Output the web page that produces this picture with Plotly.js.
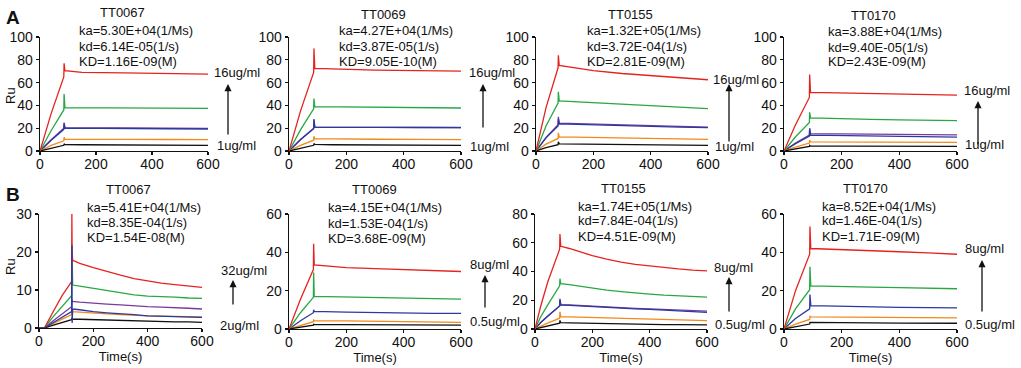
<!DOCTYPE html>
<html><head><meta charset="utf-8">
<script src="https://cdn.plot.ly/plotly-3.0.1.min.js"></script>
<style>html,body{margin:0;padding:0;background:#fff}#chart{width:1021px;height:368px}</style>
</head><body><div id="chart"></div>
<script>
// ---------- DATA ----------
const xTicks = [0, 200, 400, 600];

// Panel A: TT0067
const A1_t      = [0, 40, 85, 86, 89, 150, 300, 450, 600];
const A1_red    = [0, 33, 65, 77, 70.5, 69, 68.5, 68, 67.5];
const A1_green  = [0, 18, 36, 50, 38, 38, 37.8, 37.6, 37.4];
const A1_purple = [0, 10, 20, 25, 20.5, 20.5, 20.3, 20, 19.8];
const A1_blue   = [0, 9.5, 19, 24, 20, 20, 19.8, 19.5, 19.3];
const A1_orange = [0, 5, 9, 12, 10.5, 10.3, 10.2, 10.1, 10];
const A1_black  = [0, 2.5, 5, 6.3, 5.6, 5.5, 5.3, 5.1, 4.9];

// Panel A: TT0069
const A2_t      = [0, 40, 86, 87, 90, 150, 300, 450, 600];
const A2_red    = [0, 35, 69, 90, 72.5, 72, 71, 70.5, 70];
const A2_green  = [0, 18.5, 37, 46, 39, 38.8, 38.5, 38, 37.7];
const A2_purple = [0, 10, 20, 27, 21, 21, 21, 20.8, 20.6];
const A2_blue   = [0, 9.8, 19.5, 28, 21, 20.8, 20.8, 20.6, 20.5];
const A2_orange = [0, 5, 9.5, 13, 10.8, 10.5, 10.3, 10.2, 10];
const A2_black  = [0, 2.5, 5, 6.5, 5.8, 5.5, 5.3, 5.2, 5];

// Panel A: TT0155
const A3_t      = [0, 35, 77, 78, 81, 120, 200, 300, 400, 500, 600];
const A3_red    = [0, 38, 73, 84, 75, 73.5, 70.5, 68, 66, 64, 62.5];
const A3_green  = [0, 22, 42, 52, 44, 43.5, 42.5, 41, 39.8, 38.5, 37.2];
const A3_purple = [0, 12, 23, 30, 24.5, 24.2, 23.5, 23, 22.3, 21.5, 21];
const A3_blue   = [0, 11.5, 22, 28, 23.8, 23.5, 23, 22.4, 21.8, 21, 20.5];
const A3_orange = [0, 6, 11, 16, 12.4, 12.2, 12, 11.5, 11, 10.5, 10.2];
const A3_black  = [0, 3, 5.5, 8, 6.3, 6.2, 6, 5.8, 5.5, 5.2, 5];

// Panel A: TT0170
const A4_t      = [0, 40, 88, 89, 92, 200, 300, 400, 500, 600];
const A4_red    = [0, 23, 47, 67, 51.5, 51, 50.5, 50, 49.5, 49];
const A4_green  = [0, 12.5, 25, 34, 29, 28, 27.7, 27.3, 27, 26.7];
const A4_purple = [0, 7, 14, 19, 15.2, 15, 14.8, 14.6, 14.3, 14.2];
const A4_blue   = [0, 6.5, 13, 20, 14, 13.5, 13.2, 12.8, 12.5, 12.2];
const A4_orange = [0, 3.5, 7, 9.5, 8, 7.8, 7.7, 7.6, 7.6, 7.6];
const A4_black  = [0, 2, 4, 5, 4.4, 4.3, 4.2, 4.1, 4, 4];

// Panel B: TT0067
const B1_t      = [0, 20, 50, 85, 120, 121, 122, 124, 150, 200, 250, 300, 350, 400, 450, 500, 550, 600];
const B1_red    = [0, 0, 4, 8.5, 12.2, 30, 20, 17.8, 17, 15.9, 14.8, 13.9, 13, 12.3, 11.8, 11.4, 11, 10.7];
const B1_green  = [0, 0, 2.8, 5.8, 8.5, 22, 14, 11.3, 11, 10.4, 9.7, 9.1, 8.7, 8.4, 8.3, 8.1, 7.9, 7.8];
const B1_purple = [0, 0, 1.8, 3.8, 5.6, 7.5, 7.2, 7, 6.8, 6.5, 6.3, 6.1, 5.8, 5.6, 5.5, 5.4, 5.2, 5];
const B1_blue   = [0, 0, 1.3, 2.8, 4.3, 21.7, 1.3, 5, 4.8, 4.3, 4, 3.8, 3.5, 3.2, 3.1, 3, 2.9, 2.8];
const B1_orange = [0, 0, 1.1, 2.4, 3.5, 4.5, 4.3, 4.3, 4.2, 3.9, 3.7, 3.5, 3.3, 3.2, 3.1, 3, 2.9, 2.9];
const B1_black  = [0, 0, 0.7, 1.5, 2.2, 2.5, 2.4, 2.3, 2.3, 2.2, 2.1, 2, 1.8, 1.7, 1.7, 1.6, 1.6, 1.5];

// Panel B: TT0069
const B2_t      = [0, 40, 85, 86, 88, 200, 300, 400, 500, 600];
const B2_red    = [0, 15.5, 31, 44.5, 33.5, 32, 31.5, 31, 30.5, 30];
const B2_green  = [0, 8.5, 16.5, 29.5, 17, 16.7, 16.3, 16, 15.8, 15.6];
const B2_blue   = [0, 4.3, 8.5, 10, 9.2, 8.8, 8.5, 8.3, 8.2, 8.2];
const B2_orange = [0, 1.9, 3.8, 5, 4.3, 4.2, 4, 3.8, 3.6, 3.5];
const B2_black  = [0, 1, 2, 2.6, 2.3, 2.3, 2.2, 2.1, 2, 2];

// Panel B: TT0155
const B3_t      = [0, 20, 45, 70, 86, 87, 90, 120, 160, 200, 250, 300, 350, 400, 450, 500, 550, 600];
const B3_red    = [0, 16, 33, 47, 55.5, 66, 57.5, 56, 53.5, 51, 48.6, 46.5, 45, 43.8, 42.7, 41.8, 41, 40.5];
const B3_green  = [0, 8.5, 17, 25, 30, 35, 31.5, 30.8, 29.5, 28.3, 27, 26, 25, 24.3, 23.6, 23, 22.5, 22.2];
const B3_purple = [0, 4.5, 9, 13, 16, 20, 17, 16.8, 16.3, 15.8, 15.2, 14.8, 14.4, 14, 13.6, 13.2, 12.8, 12.5];
const B3_blue   = [0, 4.5, 9, 13, 16, 21, 16.8, 16.5, 16, 15.5, 15, 14.5, 14, 13.6, 13, 12.5, 12, 11.6];
const B3_orange = [0, 2, 4.2, 6.2, 7.5, 12, 8.6, 8.4, 8.2, 7.9, 7.5, 7.2, 7, 6.7, 6.4, 6.2, 6, 5.8];
const B3_black  = [0, 1, 2.2, 3.3, 4, 6, 4.4, 4.3, 4.1, 4, 3.8, 3.6, 3.4, 3.3, 3.1, 3, 2.9, 2.9];

// Panel B: TT0170
const B4_t      = [0, 40, 89, 90, 93, 200, 300, 400, 500, 600];
const B4_red    = [0, 20, 39, 53.5, 42, 41.5, 41, 40.3, 39.7, 39];
const B4_green  = [0, 10.5, 20.5, 32.5, 22.5, 22, 21.8, 21.6, 21.3, 21];
const B4_blue   = [0, 5.5, 10.5, 18, 12.2, 11.8, 11.5, 11.3, 11.2, 11];
const B4_orange = [0, 2.5, 5, 6.8, 6.3, 6.2, 6.1, 6, 5.9, 5.8];
const B4_black  = [0, 1.3, 2.6, 3.5, 3.5, 3.3, 3.2, 3.1, 3, 3];

const panelNames = ["TT0067", "TT0069", "TT0155", "TT0170", "TT0067", "TT0069", "TT0155", "TT0170"];
const kaLabels = ["ka=5.30E+04(1/Ms)", "ka=4.27E+04(1/Ms)", "ka=1.32E+05(1/Ms)", "ka=3.88E+04(1/Ms)",
                  "ka=5.41E+04(1/Ms)", "ka=4.15E+04(1/Ms)", "ka=1.74E+05(1/Ms)", "ka=8.52E+04(1/Ms)"];
const kdLabels = ["kd=6.14E-05(1/s)", "kd=3.87E-05(1/s)", "kd=3.72E-04(1/s)", "kd=9.40E-05(1/s)",
                  "kd=8.35E-04(1/s)", "kd=1.53E-04(1/s)", "kd=7.84E-04(1/s)", "kd=1.46E-04(1/s)"];
const KDLabels = ["KD=1.16E-09(M)", "KD=9.05E-10(M)", "KD=2.81E-09(M)", "KD=2.43E-09(M)",
                  "KD=1.54E-08(M)", "KD=3.68E-09(M)", "KD=4.51E-09(M)", "KD=1.71E-09(M)"];
const highLabels = ["16ug/ml", "16ug/ml", "16ug/ml", "16ug/ml", "32ug/ml", "8ug/ml", "8ug/ml", "8ug/ml"];
const lowLabels  = ["1ug/ml", "1ug/ml", "1ug/ml", "1ug/ml", "2ug/ml", "0.5ug/ml", "0.5ug/ml", "0.5ug/ml"];
const yMax = [100, 100, 100, 100, 30, 60, 80, 60];
const yTicks = [
  [0, 20, 40, 60, 80, 100], [0, 20, 40, 60, 80, 100], [0, 20, 40, 60, 80, 100], [0, 20, 40, 60, 80, 100],
  [0, 10, 20, 30], [0, 20, 40, 60], [0, 20, 40, 60, 80], [0, 20, 40, 60]
];

// ---------- STYLE / LAYOUT ----------
const W = 1021, H = 368;
const COLORS = {red: "#e5231e", green: "#27a844", purple: "#7a3a9c", blue: "#2b3a9e", orange: "#f28a1c", black: "#111111"};
const FONT = "Liberation Sans, Arial, Helvetica, sans-serif";
const TXT = 13;

const seriesByPanel = [
  {t: A1_t, s: {purple: A1_purple, blue: A1_blue, orange: A1_orange, black: A1_black, green: A1_green, red: A1_red}},
  {t: A2_t, s: {purple: A2_purple, blue: A2_blue, orange: A2_orange, black: A2_black, green: A2_green, red: A2_red}},
  {t: A3_t, s: {purple: A3_purple, blue: A3_blue, orange: A3_orange, black: A3_black, green: A3_green, red: A3_red}},
  {t: A4_t, s: {purple: A4_purple, blue: A4_blue, orange: A4_orange, black: A4_black, green: A4_green, red: A4_red}},
  {t: B1_t, s: {purple: B1_purple, orange: B1_orange, black: B1_black, green: B1_green, red: B1_red, blue: B1_blue}},
  {t: B2_t, s: {blue: B2_blue, orange: B2_orange, black: B2_black, green: B2_green, red: B2_red}},
  {t: B3_t, s: {purple: B3_purple, blue: B3_blue, orange: B3_orange, black: B3_black, green: B3_green, red: B3_red}},
  {t: B4_t, s: {blue: B4_blue, orange: B4_orange, black: B4_black, green: B4_green, red: B4_red}}
];

// pixel boxes [left, right, top, bottom]
const boxes = [
  [40, 208, 37, 151], [289, 461, 37, 151], [536, 708, 37, 151], [784, 957, 37, 151],
  [39, 202, 214, 328], [289, 461, 214, 329], [535, 707, 214, 329], [784, 957, 214, 329]
];
const titlePos = [[122, 13], [383, 14], [630, 14], [873, 15], [128, 189], [374, 189], [623, 188], [865, 188]];
const paramPos = [[77, 31], [337, 31], [585, 31], [826, 32], [85, 207], [326, 208], [576, 206], [820, 206]];
const highPos = [[212, 72], [467, 72], [711, 80], [962, 91], [219, 270], [468, 264], [712, 267], [963, 248]];
const lowPos  = [[215, 145], [468, 146], [713, 146], [963, 144], [218, 325], [468, 321], [713, 324], [963, 324]];
const arrows = [[228, 84, 136], [483, 84, 129], [729, 84, 143], [978, 101, 146], [233, 280, 306], [485, 275, 309], [729, 277, 313], [982, 260, 313]];

const px = x => x / W;
const py = y => 1 - y / H;

const traces = [];
const layout = {
  width: W, height: H, margin: {l: 0, r: 0, t: 0, b: 0},
  paper_bgcolor: "#fff", plot_bgcolor: "rgba(0,0,0,0)", showlegend: false,
  font: {family: FONT, size: 13, color: "#111"},
  annotations: [], shapes: []
};

seriesByPanel.forEach((p, i) => {
  const n = i + 1;
  const xa = n === 1 ? "x" : "x" + n, ya = n === 1 ? "y" : "y" + n;
  Object.keys(p.s).forEach(c => {
    traces.push({x: p.t, y: p.s[c], xaxis: xa, yaxis: ya, type: "scatter", mode: "lines",
      line: {color: COLORS[c], width: 1.3}, hoverinfo: "skip"});
  });
  const b = boxes[i];
  const common = {showgrid: false, zeroline: false, showline: true, linecolor: "#111", linewidth: 1.3,
    ticks: "outside", ticklen: 3, tickwidth: 1.3, tickcolor: "#111", tickfont: {family: FONT, size: 14, color: "#111"}};
  layout[n === 1 ? "xaxis" : "xaxis" + n] = Object.assign({}, common, {
    domain: [px(b[0]), px(b[1])], anchor: ya, range: [0, 600], tickvals: xTicks, ticktext: xTicks.map(String),
    ticklabelstandoff: -3,
    title: i >= 4 ? {text: "Time(s)", font: {family: FONT, size: TXT, color: "#111"}, standoff: 0} : {text: ""}
  });
  layout[n === 1 ? "yaxis" : "yaxis" + n] = Object.assign({}, common, {
    domain: [py(b[3]), py(b[2])], anchor: xa, range: [0, yMax[i]], tickvals: yTicks[i], ticktext: yTicks[i].map(String)
  });
  const ann = (x, y, text, xanchor) => layout.annotations.push({
    xref: "paper", yref: "paper", x: px(x), y: py(y), text, showarrow: false, xanchor, yanchor: "middle",
    font: {family: FONT, size: TXT, color: "#111"}});
  ann(titlePos[i][0], titlePos[i][1], panelNames[i], "center");
  ann(paramPos[i][0], paramPos[i][1], kaLabels[i], "left");
  ann(paramPos[i][0], paramPos[i][1] + 15, kdLabels[i], "left");
  ann(paramPos[i][0], paramPos[i][1] + 30, KDLabels[i], "left");
  ann(highPos[i][0], highPos[i][1], highLabels[i], "left");
  ann(lowPos[i][0], lowPos[i][1], lowLabels[i], "left");
  const a = arrows[i];
  layout.annotations.push({xref: "paper", yref: "paper", x: px(a[0]), y: py(a[1]), ax: 0, ay: a[2] - a[1],
    axref: "pixel", ayref: "pixel", text: "", showarrow: true, arrowhead: 2, arrowsize: 1.1, arrowwidth: 1.3, arrowcolor: "#111"});
});

const letterAnn = (x, y, t) => layout.annotations.push({xref: "paper", yref: "paper", x: px(x), y: py(y), text: "<b>" + t + "</b>",
  showarrow: false, xanchor: "center", yanchor: "middle", font: {family: FONT, size: 19, color: "#111"}});
letterAnn(13, 17, "A");
letterAnn(13, 194, "B");
const ruAnn = (x, y) => layout.annotations.push({xref: "paper", yref: "paper", x: px(x), y: py(y), text: "Ru", textangle: -90,
  showarrow: false, xanchor: "center", yanchor: "middle", font: {family: FONT, size: TXT, color: "#111"}});
ruAnn(10, 96);
ruAnn(10, 267);

Plotly.newPlot("chart", traces, layout, {staticPlot: true, displayModeBar: false});
</script></body></html>
